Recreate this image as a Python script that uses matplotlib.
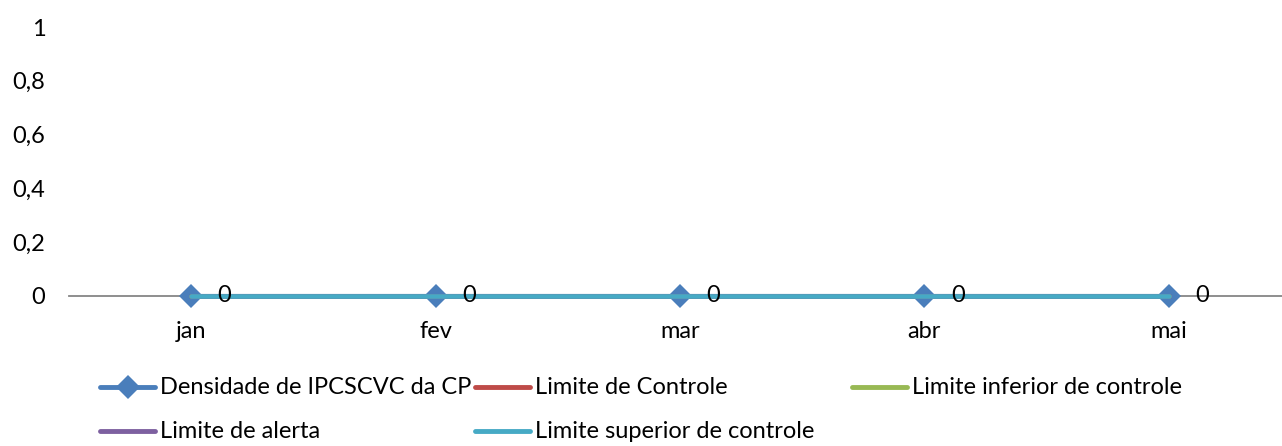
import matplotlib
matplotlib.use("Agg")
import matplotlib.pyplot as plt
from matplotlib.lines import Line2D

months = ["jan", "fev", "mar", "abr", "mai"]
densidade = [0, 0, 0, 0, 0]
limite_controle = [0, 0, 0, 0, 0]
limite_inferior = [0, 0, 0, 0, 0]
limite_alerta = [0, 0, 0, 0, 0]
limite_superior = [0, 0, 0, 0, 0]
names = ["Densidade de IPCSCVC da CP", "Limite de Controle",
         "Limite inferior de controle", "Limite de alerta",
         "Limite superior de controle"]
yticks = [0, 0.2, 0.4, 0.6, 0.8, 1]
ytick_labels = ["0", "0,2", "0,4", "0,6", "0,8", "1"]

colors = ["#4A7EBB", "#BE4B48", "#98B954", "#7D60A0", "#46AAC5"]
plt.rcParams['font.family'] = ['Lato', 'DejaVu Sans']
FS = 17

W, H = 1282, 446
fig = plt.figure(figsize=(W / 100, H / 100), dpi=100)
x0, x1 = 69, 1291
ytop, ybot = 27, 296
ax = fig.add_axes([x0 / W, (H - ybot) / H, (x1 - x0) / W, (ybot - ytop) / H])

xs = list(range(len(months)))
series = [densidade, limite_controle, limite_inferior, limite_alerta, limite_superior]
ax.plot(xs, densidade, color=colors[0], lw=3, marker="D", ms=12,
        markeredgewidth=0, zorder=2, solid_capstyle="round", clip_on=False)
for s, c in zip(series[1:], colors[1:]):
    ax.plot(xs, s, color=c, lw=3.3, zorder=3, solid_capstyle="round",
            clip_on=False)

for xi, v in zip(xs, densidade):
    ax.annotate(f"{v:g}".replace(".", ","), (xi, v), xytext=(19, 0),
                textcoords="offset points", ha="left", va="center",
                fontsize=FS, color="black", zorder=4, annotation_clip=False)

ax.set_xlim(-0.5, 4.5)
ax.set_ylim(0, 1)
ax.set_yticks(yticks)
ax.set_yticklabels(ytick_labels, fontsize=FS)
ax.set_xticks(xs)
ax.set_xticklabels(months, fontsize=FS)
ax.tick_params(axis="y", length=0, pad=17)
ax.tick_params(axis="x", length=0, pad=18)
for sp in ["top", "right", "left"]:
    ax.spines[sp].set_visible(False)
ax.spines["bottom"].set_color("#868686")
ax.spines["bottom"].set_linewidth(1.3)
ax.spines["bottom"].set_zorder(1)

# legend (Excel-style, row-major, equal columns)
col_x = [100, 475, 852]
row_y = [387, 431]
for i, (name, c) in enumerate(zip(names, colors)):
    r, col = divmod(i, 3)
    lx, ly = col_x[col], row_y[r]
    line = Line2D([lx / W, (lx + 55) / W], [(H - ly) / H] * 2,
                  transform=fig.transFigure, color=c, lw=3.5,
                  solid_capstyle="round")
    fig.add_artist(line)
    if i == 0:
        fig.add_artist(Line2D([(lx + 27.5) / W], [(H - ly) / H],
                              transform=fig.transFigure, color=c,
                              marker="D", ms=12, markeredgewidth=0, lw=0))
    fig.text((lx + 60) / W, (H - ly) / H, name, fontsize=FS,
             ha="left", va="center")

fig.savefig("out.png", dpi=100)
